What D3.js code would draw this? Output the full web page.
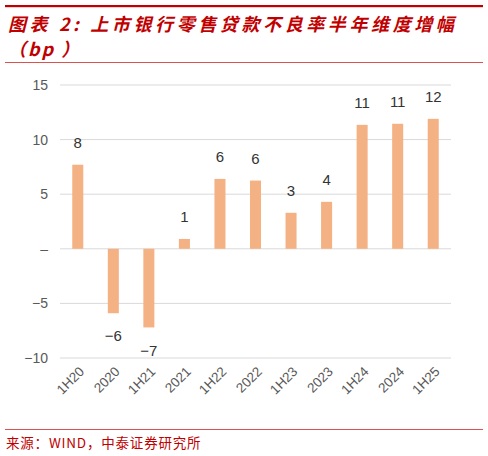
<!DOCTYPE html>
<html lang="zh">
<head>
<meta charset="UTF-8">
<title>上市银行零售贷款不良率半年维度增幅</title>
<script src="https://d3js.org/d3.v7.min.js"></script>
<style>
  body { margin: 0; background: #fff; }
  svg text { font-family: "Liberation Sans", Arial, "Noto Sans CJK SC", sans-serif; }
</style>
</head>
<body>
<div id="chart"></div>
<script>
// data
var categories = ["1H20", "2020", "1H21", "2021", "1H22", "2022", "1H23", "2023", "1H24", "2024", "1H25"];
var values = [7.7, -5.9, -7.2, 0.9, 6.4, 6.25, 3.3, 4.3, 11.35, 11.45, 11.9];
var labels = ["8", "−6", "−7", "1", "6", "6", "3", "4", "11", "11", "12"];
var yTicks = [15, 10, 5, 0, -5, -10];
var yTickText = ["15", "10", "5", "–", "−5", "−10"];

var width = 488, height = 456;
var red = "#c00000";

var svg = d3.select("#chart").append("svg")
    .attr("width", width)
    .attr("height", height);

// header
svg.append("rect").attr("x", 5).attr("y", 5).attr("width", 478).attr("height", 2.2).attr("fill", red);
svg.append("text")
    .attr("x", 8).attr("y", 31)
    .attr("fill", red)
    .style("font-size", "18px")
    .style("font-weight", "bold")
    .style("font-style", "italic")
    .style("letter-spacing", "3.6px")
    .style("font-family", "'Noto Sans CJK SC', sans-serif")
    .text("图表 2: 上市银行零售贷款不良率半年维度增幅");
svg.append("text")
    .attr("x", 8).attr("y", 56)
    .attr("fill", red)
    .style("font-size", "18px")
    .style("font-weight", "bold")
    .style("font-style", "italic")
    .style("letter-spacing", "2px")
    .style("font-family", "'Noto Sans CJK SC', sans-serif")
    .text("（bp ）");
svg.append("rect").attr("x", 5).attr("y", 62).attr("width", 478).attr("height", 1).attr("fill", "#d9534f");

// chart
var y = d3.scaleLinear().domain([-10, 15]).range([358, 85]);
var x = d3.scaleBand().domain(categories).range([60, 451]).paddingInner(0.69).paddingOuter(0.345);

svg.append("g").selectAll("line")
    .data(yTicks)
    .enter().append("line")
    .attr("x1", 60).attr("x2", 451)
    .attr("y1", function(d) { return y(d); })
    .attr("y2", function(d) { return y(d); })
    .attr("stroke", "#d9d9d9")
    .attr("stroke-width", 1);

svg.append("g").selectAll("text")
    .data(yTicks)
    .enter().append("text")
    .attr("x", 48)
    .attr("y", function(d) { return y(d); })
    .attr("dy", "0.35em")
    .attr("text-anchor", "end")
    .attr("fill", "#595959")
    .style("font-size", "14px")
    .text(function(d, i) { return yTickText[i]; });

svg.append("g").selectAll("rect")
    .data(values)
    .enter().append("rect")
    .attr("x", function(d, i) { return x(categories[i]); })
    .attr("width", x.bandwidth())
    .attr("y", function(d) { return y(Math.max(0, d)); })
    .attr("height", function(d) { return Math.abs(y(d) - y(0)); })
    .attr("fill", "#f4b183");

svg.append("g").selectAll("text")
    .data(values)
    .enter().append("text")
    .attr("x", function(d, i) { return x(categories[i]) + x.bandwidth() / 2; })
    .attr("y", function(d) { return d >= 0 ? y(d) - 22 : y(d) + 23; })
    .attr("dy", "0.35em")
    .attr("text-anchor", "middle")
    .attr("fill", "#333")
    .style("font-size", "15px")
    .text(function(d, i) { return labels[i]; });

svg.append("g").selectAll("text")
    .data(categories)
    .enter().append("text")
    .attr("transform", function(d) {
        return "translate(" + (x(d) + x.bandwidth() / 2 + 4) + ",369) rotate(-45)";
    })
    .attr("dy", "0.35em")
    .attr("text-anchor", "end")
    .attr("fill", "#595959")
    .style("font-size", "13.5px")
    .text(function(d) { return d; });

// footer
svg.append("rect").attr("x", 5).attr("y", 429).attr("width", 478).attr("height", 1).attr("fill", "#d9534f");
svg.append("text")
    .attr("x", 6).attr("y", 448)
    .attr("fill", red)
    .style("font-size", "13.5px")
    .style("letter-spacing", "0.8px")
    .style("font-family", "'Noto Sans CJK SC', sans-serif")
    .text("来源：WIND，中泰证券研究所");
</script>
</body>
</html>
